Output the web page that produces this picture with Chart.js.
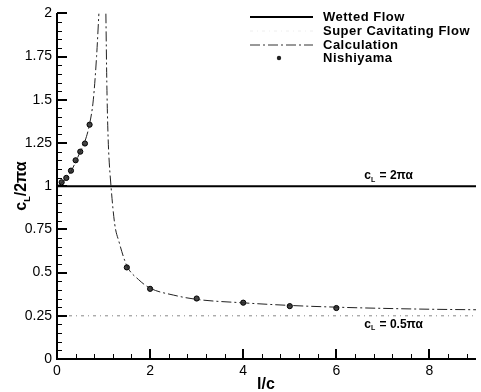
<!DOCTYPE html>
<html>
<head>
<meta charset="utf-8">
<script src="https://cdn.jsdelivr.net/npm/chart.js@4.4.1/dist/chart.umd.min.js"></script>
<style>
  html, body { margin: 0; padding: 0; background: #fff; }
  #wrap { width: 481px; height: 392px; }
</style>
</head>
<body>
<div id="wrap"><canvas id="c" width="481" height="392"></canvas></div>
<script>
// ---- Data ----
const xRange = [0, 9];
const yRange = [0, 2];
const xTickLabels = ["0", "2", "4", "6", "8"];
const yTickLabels = ["0", "0.25", "0.5", "0.75", "1", "1.25", "1.5", "1.75", "2"];

const wettedX = [0, 9];
const wettedY = [1, 1];
const superCavX = [0, 9];
const superCavY = [0.25, 0.25];

const calcLeftX = [0, 0.1, 0.2, 0.3, 0.4, 0.5, 0.6, 0.7, 0.78, 0.85, 0.9];
const calcLeftY = [1.0, 1.02, 1.045, 1.085, 1.14, 1.2, 1.26, 1.36, 1.5, 1.75, 2.0];
const calcRightX = [1.05, 1.07, 1.09, 1.11, 1.16, 1.24, 1.33, 1.5, 1.75, 2, 2.5, 3, 4, 5, 6, 7, 8, 9];
const calcRightY = [2.0, 1.6, 1.35, 1.2, 1.0, 0.78, 0.68, 0.54, 0.46, 0.41, 0.37, 0.345, 0.325, 0.31, 0.30, 0.293, 0.288, 0.285];

const nishX = [0.1, 0.2, 0.3, 0.4, 0.5, 0.6, 0.7, 1.5, 2, 3, 4, 5, 6];
const nishY = [1.023, 1.048, 1.09, 1.15, 1.2, 1.247, 1.356, 0.53, 0.406, 0.35, 0.326, 0.306, 0.295];

const legendLabels = ["Wetted Flow", "Super Cavitating Flow", "Calculation", "Nishiyama"];
const annotations = [
  { x: 6.6, y: 1.06, main: "c", sub: "L", rest: " = 2\u03C0\u03B1" },
  { x: 6.6, y: 0.2, main: "c", sub: "L", rest: " = 0.5\u03C0\u03B1" }
];

const pts = (xs, ys) => xs.map((x, i) => ({ x: x, y: ys[i] }));
const CALC_DASH = [10, 3, 2, 3];
const SC_DASH = [3, 4, 1, 4];
const FONT = '"Liberation Sans", Arial, sans-serif';

const overlay = {
  id: 'overlay',
  afterDraw(chart) {
    const ctx = chart.ctx;
    const xs = chart.scales.x, ys = chart.scales.y;
    const a = chart.chartArea;
    ctx.save();
    ctx.setLineDash([]);
    ctx.globalAlpha = 1;
    ctx.fillStyle = '#000';
    const L = Math.round(a.left), B = Math.round(a.bottom), T = Math.round(a.top), R = Math.round(a.right);
    // axis lines
    ctx.fillRect(L - 1, T, 2, B - T + 1);
    ctx.fillRect(L - 1, B - 1, R - L + 1, 2);
    // inward ticks on y
    for (let k = 0; k <= 40; k++) {
      const v = k * 0.05;
      const py = Math.round(ys.getPixelForValue(v));
      const major = k % 5 === 0;
      if (major) ctx.fillRect(L, py - 1, 10, 2);
      else ctx.fillRect(L, py, 5, 1);
    }
    // inward ticks on x
    for (let k = 0; k <= 22; k++) {
      const v = k * 0.4;
      if (v > xRange[1]) break;
      const px = Math.round(xs.getPixelForValue(v));
      const major = k % 5 === 0;
      if (major) ctx.fillRect(px - 1, B - 10, 2, 10);
      else ctx.fillRect(px, B - 5, 1, 5);
    }

    // legend
    ctx.textBaseline = 'middle';
    ctx.textAlign = 'left';
    ctx.font = 'bold 13px ' + FONT;
    try { ctx.letterSpacing = '0.5px'; } catch (e) {}
    const lx0 = 250, lx1 = 313, tx = 323;
    const rows = [17, 31, 45, 58];
    legendLabels.forEach((t, i) => ctx.fillText(t, tx, rows[i]));
    try { ctx.letterSpacing = '0px'; } catch (e) {}
    // samples
    ctx.strokeStyle = '#000';
    ctx.lineWidth = 2; ctx.setLineDash([]);
    ctx.beginPath(); ctx.moveTo(lx0, rows[0]); ctx.lineTo(lx1, rows[0]); ctx.stroke();
    ctx.lineWidth = 1; ctx.strokeStyle = '#eeeeee'; ctx.setLineDash(SC_DASH);
    ctx.beginPath(); ctx.moveTo(lx0, rows[1]); ctx.lineTo(lx1, rows[1]); ctx.stroke();
    ctx.strokeStyle = '#333'; ctx.setLineDash(CALC_DASH);
    ctx.beginPath(); ctx.moveTo(lx0, rows[2]); ctx.lineTo(lx1, rows[2]); ctx.stroke();
    ctx.setLineDash([]);
    ctx.fillStyle = '#222';
    ctx.beginPath(); ctx.arc(279, rows[3], 2.2, 0, Math.PI * 2); ctx.fill();

    // annotations
    ctx.fillStyle = '#000';
    annotations.forEach(an => {
      const px = xs.getPixelForValue(an.x);
      const py = ys.getPixelForValue(an.y);
      ctx.textBaseline = 'middle';
      ctx.font = 'bold 12px ' + FONT;
      ctx.fillText(an.main, px, py);
      let w = ctx.measureText(an.main).width;
      ctx.font = 'bold 7px ' + FONT;
      ctx.fillText(an.sub, px + w, py + 4);
      w += ctx.measureText(an.sub).width + 1;
      ctx.font = 'bold 12px ' + FONT;
      ctx.fillText(an.rest, px + w, py);
    });

    // axis titles
    ctx.font = 'bold 16px ' + FONT;
    ctx.textAlign = 'center';
    ctx.textBaseline = 'middle';
    ctx.fillText('l/c', 266, 385);

    ctx.save();
    ctx.translate(21, 186);
    ctx.rotate(-Math.PI / 2);
    ctx.textAlign = 'left';
    ctx.textBaseline = 'alphabetic';
    const t1 = 'c', t2 = 'L', t3 = '/2\u03C0\u03B1';
    ctx.font = 'bold 16px ' + FONT;
    const w1 = ctx.measureText(t1).width;
    const w3 = ctx.measureText(t3).width;
    ctx.font = 'bold 9px ' + FONT;
    const w2 = ctx.measureText(t2).width;
    const total = w1 + w2 + w3;
    let cx = -total / 2;
    ctx.font = 'bold 16px ' + FONT;
    ctx.fillText(t1, cx, 5); cx += w1;
    ctx.font = 'bold 9px ' + FONT;
    ctx.fillText(t2, cx, 9); cx += w2;
    ctx.font = 'bold 16px ' + FONT;
    ctx.fillText(t3, cx, 5);
    ctx.restore();

    ctx.restore();
  }
};

new Chart(document.getElementById('c'), {
  type: 'scatter',
  data: {
    datasets: [
      { label: legendLabels[0], data: pts(wettedX, wettedY), showLine: true, borderColor: '#000', borderWidth: 2, pointRadius: 0 },
      { label: legendLabels[1], data: pts(superCavX, superCavY), showLine: true, borderColor: '#888', borderWidth: 1, borderDash: SC_DASH, pointRadius: 0 },
      { label: legendLabels[2], data: pts(calcLeftX, calcLeftY), showLine: true, borderColor: '#222', borderWidth: 1, borderDash: CALC_DASH, pointRadius: 0, cubicInterpolationMode: 'monotone' },
      { label: legendLabels[2] + ' ', data: pts(calcRightX, calcRightY), showLine: true, borderColor: '#222', borderWidth: 1, borderDash: CALC_DASH, pointRadius: 0, cubicInterpolationMode: 'monotone' },
      { label: legendLabels[3], data: pts(nishX, nishY), showLine: false, pointRadius: 2.6, pointBackgroundColor: '#444', pointBorderColor: '#000', pointBorderWidth: 1 }
    ]
  },
  options: {
    responsive: false,
    animation: false,
    events: [],
    layout: { padding: { top: 11, right: 3, left: 0, bottom: 0 } },
    plugins: { legend: { display: false }, tooltip: { enabled: false } },
    scales: {
      x: {
        type: 'linear', min: xRange[0], max: xRange[1],
        grid: { display: false, drawTicks: false },
        border: { display: false },
        ticks: {
          stepSize: 2, padding: 4, color: '#000', maxRotation: 0,
          font: { family: FONT, size: 14 },
          callback: (v) => { const i = xTickLabels.indexOf(String(v)); return i >= 0 ? xTickLabels[i] : ''; }
        },
        afterFit: (s) => { s.height = 33; }
      },
      y: {
        type: 'linear', min: yRange[0], max: yRange[1],
        grid: { display: false, drawTicks: false },
        border: { display: false },
        ticks: {
          stepSize: 0.25, padding: 5, color: '#000',
          font: { family: FONT, size: 14 },
          callback: (v) => { const i = yTickLabels.indexOf(String(v)); return i >= 0 ? yTickLabels[i] : ''; }
        },
        afterFit: (s) => { s.width = 57; }
      }
    }
  },
  plugins: [overlay]
});
</script>
</body>
</html>
